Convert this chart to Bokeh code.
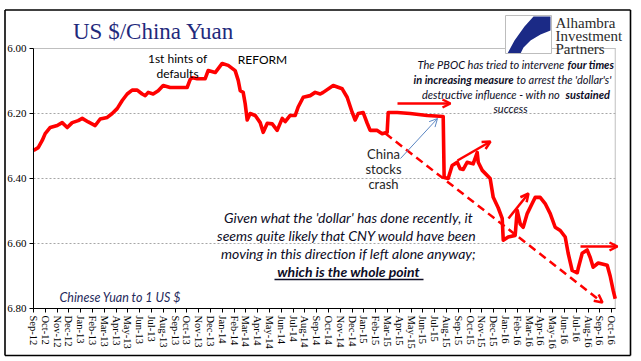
from bokeh.plotting import figure
from bokeh.models import (Range1d, FixedTicker, NumeralTickFormatter, Label, Arrow,
                          OpenHead, PolyAnnotation)
from bokeh.embed import file_html
from bokeh.resources import INLINE

# ---------------- data ----------------
months = ["Sep-12", "Oct-12", "Nov-12", "Dec-12",
          "Jan-13", "Feb-13", "Mar-13", "Apr-13", "May-13", "Jun-13",
          "Jul-13", "Aug-13", "Sep-13", "Oct-13", "Nov-13", "Dec-13",
          "Jan-14", "Feb-14", "Mar-14", "Apr-14", "May-14", "Jun-14",
          "Jul-14", "Aug-14", "Sep-14", "Oct-14", "Nov-14", "Dec-14",
          "Jan-15", "Feb-15", "Mar-15", "Apr-15", "May-15", "Jun-15",
          "Jul-15", "Aug-15", "Sep-15", "Oct-15", "Nov-15", "Dec-15",
          "Jan-16", "Feb-16", "Mar-16", "Apr-16", "May-16", "Jun-16",
          "Jul-16", "Aug-16", "Sep-16", "Oct-16"]

# months elapsed since the start of Sep-12
t = [0.0, 0.40, 0.74, 0.99, 1.42, 2.01, 2.43, 2.86, 3.28, 3.79, 4.13, 4.64,
     5.23, 5.65, 6.25, 6.67, 7.09, 7.52, 7.94, 8.36, 8.79, 9.21, 9.47, 9.72,
     10.14, 10.57, 10.99, 11.58, 13.02, 13.28, 13.45, 13.87, 14.55, 14.80,
     15.40, 15.99, 16.50, 17.09, 17.35, 17.52, 17.77, 17.94, 18.11, 18.36,
     18.79, 19.21, 19.47, 19.81, 20.23, 20.65, 21.08, 21.33, 21.75, 22.18,
     22.43, 22.86, 23.45, 23.87, 24.30, 24.55, 25.40, 26.16, 26.58, 27.01,
     27.26, 27.52, 27.94, 28.28, 28.53, 29.13, 29.55, 29.97, 30.06, 30.82,
     31.92, 33.36, 34.72, 34.80, 35.14, 35.48, 35.91, 36.16, 36.42, 36.75,
     37.26, 37.60, 37.69, 38.03, 38.70, 38.96, 39.38, 39.72, 39.81, 40.23,
     40.82, 40.99, 41.25, 41.50, 41.84, 42.26, 42.52, 42.94, 43.36, 43.79,
     44.21, 44.64, 45.06, 45.31, 45.65, 46.08, 46.16, 46.50, 46.92, 47.18,
     47.43, 47.86, 48.62, 48.87, 49.13, 49.30]

cny = [6.314, 6.305, 6.283, 6.262, 6.243, 6.237, 6.228, 6.243, 6.228, 6.222,
       6.215, 6.226, 6.237, 6.217, 6.212, 6.200, 6.185, 6.160, 6.140, 6.128,
       6.128, 6.140, 6.145, 6.135, 6.140, 6.130, 6.114, 6.120, 6.120, 6.095,
       6.090, 6.093, 6.093, 6.068, 6.074, 6.046, 6.052, 6.068, 6.098, 6.130,
       6.135, 6.170, 6.220, 6.200, 6.206, 6.228, 6.258, 6.230, 6.232, 6.252,
       6.215, 6.225, 6.206, 6.206, 6.180, 6.150, 6.145, 6.135, 6.140, 6.135,
       6.114, 6.124, 6.150, 6.197, 6.220, 6.200, 6.197, 6.230, 6.252, 6.252,
       6.262, 6.258, 6.197, 6.197, 6.200, 6.206, 6.209, 6.397, 6.400, 6.360,
       6.350, 6.370, 6.372, 6.350, 6.355, 6.320, 6.350, 6.375, 6.400, 6.458,
       6.490, 6.523, 6.590, 6.580, 6.575, 6.498, 6.540, 6.550, 6.508, 6.477,
       6.458, 6.458, 6.477, 6.508, 6.550, 6.560, 6.580, 6.630, 6.683, 6.690,
       6.677, 6.630, 6.620, 6.643, 6.673, 6.660, 6.667, 6.700, 6.745, 6.770]

y_ticks = [6.00, 6.20, 6.40, 6.60, 6.80]
x_span = (0.0, 49.3)          # extent of the plotted period (months)

# ---------------- geometry ----------------
W, H = 640, 360
FL = 33                       # pixel column of the y axis
PX_PER_MONTH = 11.8
PX_PER_UNIT = 325.0
Y_TOP_PX = 48                 # pixel row of 6.00

x_start = x_span[0] - FL / PX_PER_MONTH
x_end = x_span[0] + (W - FL) / PX_PER_MONTH
y_top = y_ticks[0] - Y_TOP_PX / PX_PER_UNIT
y_bot = y_ticks[0] + (H - Y_TOP_PX) / PX_PER_UNIT

p = figure(width=W, height=H, output_backend="svg", toolbar_location=None,
           x_range=Range1d(x_start, x_end), y_range=Range1d(y_bot, y_top),
           min_border=0)
p.background_fill_color = "white"
p.border_fill_color = "white"
p.outline_line_color = None

# frame of the plot area (top and right sides, light grey)
p.line([x_span[0], x_span[1], x_span[1]], [y_ticks[0], y_ticks[0], y_ticks[-1]],
       color="#bfbfbf", line_width=1)

p.line(t, cny, color="#FF0000", line_width=3.6, line_join="round")

# axes, pinned at the data origin
p.xaxis.fixed_location = y_ticks[-1]
p.xaxis.bounds = x_span
p.xaxis.ticker = FixedTicker(ticks=list(range(len(months))))
p.xaxis.major_label_overrides = {i: m for i, m in enumerate(months)}
p.xaxis.major_label_orientation = "vertical"
p.xaxis.minor_tick_line_color = None
p.xaxis.major_tick_out = 4
p.xaxis.major_tick_in = 0
p.xaxis.major_label_standoff = 3
p.xaxis.major_label_text_font = "Liberation Serif"
p.xaxis.major_label_text_font_size = "10.5px"
p.xaxis.major_label_text_color = "black"
p.xaxis.axis_line_color = "black"
p.xaxis.major_tick_line_color = "black"

p.yaxis.fixed_location = x_span[0]
p.yaxis.bounds = (y_ticks[0], y_ticks[-1])
p.yaxis.ticker = FixedTicker(ticks=y_ticks)
p.yaxis.formatter = NumeralTickFormatter(format="0.00")
p.yaxis.minor_tick_line_color = None
p.yaxis.major_tick_out = 4
p.yaxis.major_tick_in = 0
p.yaxis.major_label_standoff = 3
p.yaxis.major_label_text_font = "Liberation Serif"
p.yaxis.major_label_text_font_size = "11px"
p.yaxis.major_label_text_color = "black"
p.yaxis.axis_line_color = "black"
p.yaxis.major_tick_line_color = "black"

p.xgrid.visible = False
p.ygrid.grid_line_color = "#a6a6a6"
p.ygrid.grid_line_dash = "2 2"
p.ygrid.grid_line_width = 1
try:
    p.ygrid[0].cross_bounds = x_span
except Exception:
    p.ygrid.visible = False
    p.segment(x0=[x_span[0]] * 3, x1=[x_span[1]] * 3, y0=y_ticks[1:4],
              y1=y_ticks[1:4], color="#a6a6a6", line_dash="2 2", line_width=1)


# --------------- annotations (placed by reference pixel position) ---------------
def P(x, y):
    return ((x - FL) / PX_PER_MONTH, y_ticks[0] + (y - Y_TOP_PX) / PX_PER_UNIT)


def label(x, y, text, size, font="Lato", style="normal", color="#0d0d26",
          align="center"):
    lx, ly = P(x, y)
    p.add_layout(Label(x=lx, y=ly, text=text, text_font=font,
                       text_font_size=size, text_font_style=style,
                       text_color=color, text_align=align,
                       text_baseline="middle"))


def arrow(x0, y0, x1, y1, color="#FF0000", width=2.5, dash="solid", head=True):
    a, b = P(x0, y0)
    c, d = P(x1, y1)
    end = OpenHead(size=8, line_color=color, line_width=width) if head else None
    p.add_layout(Arrow(x_start=a, y_start=b, x_end=c, y_end=d, end=end,
                       line_color=color, line_width=width, line_dash=dash))


def box(x0, y0, x1, y1, color, width):
    for a, b, c, d in [(x0, y0, x1, y0), (x1, y0, x1, y1),
                       (x1, y1, x0, y1), (x0, y1, x0, y0)]:
        arrow(a, b, c, d, color=color, width=width, head=False)


def poly(pts, fill):
    xs = [P(x, y)[0] for x, y in pts]
    ys = [P(x, y)[1] for x, y in pts]
    p.add_layout(PolyAnnotation(xs=xs, ys=ys, fill_color=fill, fill_alpha=1.0,
                                line_color=None))


# outer border of the chart
box(4.5, 9.5, 630, 355, "black", 1.6)

# title
label(153, 31, "US $/China Yuan", "23px", font="Liberation Serif",
      color="#1F2A7C")

# logo
poly([(505, 15), (551, 15), (551, 53), (505, 53)], "white")
poly([(533, 16), (550, 16), (550, 30), (540, 34), (530, 40), (523, 47),
      (520, 53), (507, 53), (514, 40), (524, 26)], "#1B2A86")
box(505, 15, 551, 53, "#bdbdbd", 1)
label(555, 22, "Alhambra", "15px", font="Liberation Serif", color="#2b2b2b",
      align="left")
label(555, 35, "Investment", "15px", font="Liberation Serif", color="#2b2b2b",
      align="left")
label(555, 48, "Partners", "15px", font="Liberation Serif", color="#2b2b2b",
      align="left")

# event notes
label(177, 58, "1st hints of", "12px", color="black")
label(177, 73, "defaults", "12px", color="black")
label(262, 59, "REFORM", "12px", color="black")
label(383, 153, "China", "13px", color="#262626")
label(383, 168, "stocks", "13px", color="#262626")
label(383, 183, "crash", "13px", color="#262626")

# PBOC note (mixed weights)
fs = "11px"
label(564, 64, "The PBOC has tried to intervene", fs, style="italic",
      align="right")
label(567, 64, "four times", fs, style="bold italic", align="left")
label(513, 79, "in increasing measure", fs, style="bold italic", align="right")
label(516, 79, "to arrest the 'dollar's'", fs, style="italic", align="left")
label(562, 94, "destructive influence -  with no", fs, style="italic",
      align="right")
label(565, 94, "sustained", fs, style="bold italic", align="left")
label(510, 108, "success", fs, style="italic")

# big note
bs = "14px"
label(348, 217, "Given what the 'dollar' has done recently, it", bs,
      style="italic")
label(348, 235, "seems quite likely  that CNY would have been", bs,
      style="italic")
label(348, 253, "moving in this direction if left alone anyway;", bs,
      style="italic")
label(348, 271, "which is the whole point", bs, style="bold italic")
arrow(274, 279, 423, 279, color="#0d0d26", width=1.3, head=False)

label(59, 297, "Chinese Yuan to 1 US $", "12.5px", style="italic",
      color="#1F2A5C", align="left")

# arrows
arrow(385, 133, 602, 302, dash="8 5")
arrow(397, 103, 450, 103)
arrow(457, 160, 490, 141)
arrow(508, 218, 528, 193)
arrow(580, 246, 617, 246)
arrow(400, 158, 437, 118, color="#5B86C2", width=1)

open("out.html", "w").write(file_html(p, INLINE))
